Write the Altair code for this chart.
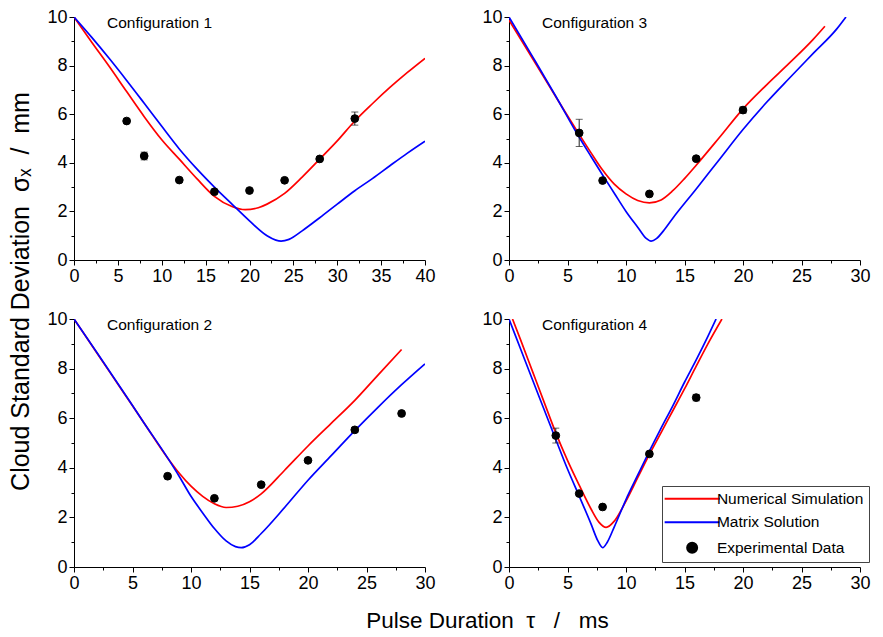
import altair as alt
import pandas as pd

FONT = "Liberation Sans"
SERIES = ["Numerical Simulation", "Matrix Solution", "Experimental Data"]
COLORS = ["#ff0000", "#0000ff", "#000000"]
LINE_PATH = "M-5.5,0H5.5"
SHAPES = [LINE_PATH, LINE_PATH, "circle"]

# ---- Configuration 1 ----
c1_red_t = [0, 2, 4, 6, 8, 10, 12, 14, 16, 18, 19.5, 21, 22, 24, 26, 28, 30, 32, 34, 36, 38, 40]
c1_red_s = [10, 8.97, 7.97, 6.93, 5.9, 4.95, 4.15, 3.35, 2.62, 2.2, 2.07, 2.15, 2.3, 2.74, 3.41, 4.15, 4.9, 5.72, 6.43, 7.1, 7.72, 8.3]
c1_blue_t = [0, 2, 4, 6, 8, 10, 12, 14, 16, 18, 20, 22, 23, 23.6, 24.5, 26, 28, 30, 32, 34, 36, 38, 40]
c1_blue_s = [10, 9.17, 8.3, 7.39, 6.45, 5.5, 4.57, 3.75, 3.0, 2.3, 1.61, 1.0, 0.82, 0.78, 0.85, 1.2, 1.74, 2.3, 2.85, 3.35, 3.88, 4.4, 4.89]
c1_exp_t = [6, 8, 12, 16, 20, 24, 28, 32]
c1_exp_s = [5.72, 4.28, 3.29, 2.81, 2.86, 3.28, 4.16, 5.82]
c1_exp_e = [0.08, 0.16, 0.04, 0.04, 0.04, 0.04, 0.04, 0.27]

# ---- Configuration 3 ----
c3_red_t = [0, 2, 4, 6, 7, 8, 9, 10, 11, 12, 13, 14, 15, 16, 18, 20, 22, 24, 26, 27]
c3_red_s = [9.87, 8.3, 6.72, 5.17, 4.42, 3.7, 3.12, 2.72, 2.45, 2.35, 2.47, 2.85, 3.35, 3.9, 5.05, 6.22, 7.2, 8.12, 9.08, 9.62]
c3_blue_t = [0, 2, 4, 6, 7, 8, 9, 10, 11, 11.7, 12.15, 12.6, 13.2, 14, 16, 18, 20, 22, 24, 26, 28, 28.8]
c3_blue_s = [10, 8.38, 6.74, 5.05, 4.27, 3.5, 2.75, 2.0, 1.35, 0.9, 0.78, 0.88, 1.2, 1.72, 2.92, 4.15, 5.37, 6.48, 7.5, 8.5, 9.5, 10]
c3_exp_t = [6, 8, 12, 16, 20]
c3_exp_s = [5.23, 3.27, 2.72, 4.17, 6.17]
c3_exp_e = [0.56, 0.04, 0.04, 0.04, 0.13]

# ---- Configuration 2 ----
c2_red_t = [0, 2, 4, 6, 8, 9, 10, 11, 12, 13, 14, 15, 16, 18, 20, 22, 24, 26, 28]
c2_red_s = [10, 8.6, 7.2, 5.8, 4.4, 3.78, 3.26, 2.85, 2.55, 2.4, 2.45, 2.63, 2.95, 3.9, 4.88, 5.8, 6.72, 7.75, 8.77]
c2_blue_t = [0, 2, 4, 6, 8, 9, 10, 11, 12, 13, 13.8, 14.3, 15, 16, 18, 20, 22, 24, 26, 28, 30]
c2_blue_s = [10, 8.62, 7.22, 5.8, 4.4, 3.65, 2.85, 2.18, 1.55, 1.05, 0.82, 0.78, 0.9, 1.35, 2.4, 3.5, 4.5, 5.5, 6.45, 7.35, 8.19]
c2_exp_t = [8, 12, 16, 20, 24, 28]
c2_exp_s = [3.66, 2.77, 3.32, 4.30, 5.53, 6.19]
c2_exp_e = [0.04, 0.04, 0.04, 0.04, 0.1, 0.04]

# ---- Configuration 4 ----
c4_red_t = [0.3, 1, 2, 3, 4, 5, 6, 7, 7.7, 8.3, 9, 10, 11, 12, 13, 14, 15, 16, 17, 18.2]
c4_red_s = [10, 9.15, 7.9, 6.65, 5.41, 4.3, 3.3, 2.35, 1.8, 1.6, 1.85, 2.66, 3.6, 4.54, 5.42, 6.3, 7.18, 8.1, 9.0, 10]
c4_blue_t = [0, 1, 2, 3, 4, 5, 6, 7, 7.6, 8, 8.4, 9, 10, 11, 12, 13, 14, 15, 16, 17, 17.7]
c4_blue_s = [10, 8.78, 7.56, 6.35, 5.14, 3.95, 2.86, 1.75, 1.05, 0.78, 1.0, 1.62, 2.72, 3.7, 4.67, 5.6, 6.5, 7.45, 8.35, 9.3, 10]
c4_exp_t = [4, 6, 8, 12, 16]
c4_exp_s = [5.30, 2.96, 2.42, 4.56, 6.83]
c4_exp_e = [0.3, 0.04, 0.04, 0.04, 0.13]

Y_TITLE = "Cloud Standard Deviation\u00a0\u00a0\u03c3\u2093\u00a0\u00a0/\u00a0\u00a0mm"
X_TITLE = "Pulse Duration\u00a0\u00a0\u03c4\u00a0\u00a0\u00a0/\u00a0\u00a0\u00a0ms"

W = 351
H_TOP, H_BOT = 243, 248

leg = alt.Legend(
    title=None, orient="none", legendX=588, legendY=469,
    fillColor="white", strokeColor="#444444", padding=5,
    labelFontSize=15.5, labelFont=FONT, labelColor="black", labelLimit=400,
    symbolStrokeWidth=2, symbolOffset=17.4, labelOffset=17, rowPadding=6.5,
)
stroke_scale = alt.Scale(domain=SERIES, range=COLORS)
fill_scale = alt.Scale(domain=SERIES, range=COLORS)
shape_scale = alt.Scale(domain=SERIES, range=SHAPES)


def panel(name, xmax, height, red_t, red_s, blue_t, blue_s, exp_t, exp_s, exp_e, ytitle=None, xtitle=None):
    lines = pd.DataFrame({
        "t": red_t + blue_t,
        "s": red_s + blue_s,
        "series": [SERIES[0]] * len(red_t) + [SERIES[1]] * len(blue_t),
    })
    exp = pd.DataFrame({
        "t": exp_t,
        "s": exp_s,
        "lo": [s - e for s, e in zip(exp_s, exp_e)],
        "hi": [s + e for s, e in zip(exp_s, exp_e)],
        "series": [SERIES[2]] * len(exp_t),
    })
    xvals = [i * 2.5 for i in range(int(xmax / 2.5) + 1)]
    yvals = list(range(0, 11))
    xaxis_kw = dict(
        values=xvals,
        labelExpr="datum.value % 5 === 0 ? '' + datum.value : ''",
        tickSize={"condition": {"test": "datum.value % 5 === 0", "value": 5}, "value": 3},
        labelPadding=2,
        title=xtitle,
    )
    if xtitle:
        xaxis_kw.update(titleX=413, titleY=53, titleBaseline="middle", titleAlign="center",
                        titleFontSize=22.5, titleFont=FONT, titleFontWeight="normal")
    yaxis_kw = dict(
        values=yvals,
        labelExpr="datum.value % 2 === 0 ? '' + datum.value : ''",
        tickSize={"condition": {"test": "datum.value % 2 === 0", "value": 5}, "value": 3},
        labelPadding=2,
        title=ytitle,
    )
    if ytitle:
        yaxis_kw.update(titleX=-54, titleY=274, titleBaseline="middle", titleAlign="center",
                        titleAngle=270, titleFontSize=25, titleFont=FONT, titleFontWeight="normal")
    xaxis = alt.Axis(**xaxis_kw)
    yaxis = alt.Axis(**yaxis_kw)
    xscale = alt.Scale(domain=[0, xmax], nice=False, zero=False)
    yscale = alt.Scale(domain=[0, 10], nice=False)

    def X():
        return alt.X("t:Q", scale=xscale, axis=xaxis)

    def Y(field):
        return alt.Y(f"{field}:Q", scale=yscale, axis=yaxis)

    line_ch = alt.Chart(lines).mark_line(strokeWidth=1.7, interpolate="monotone", clip=True).encode(
        x=X(), y=Y("s"),
        stroke=alt.Stroke("series:N", scale=stroke_scale, legend=leg),
    )
    rule_ch = alt.Chart(exp).mark_rule(color="#222222", strokeWidth=1).encode(
        x=X(), y=Y("lo"), y2="hi:Q"
    )
    cap_lo = alt.Chart(exp).mark_tick(orient="horizontal", color="#222222", size=7, thickness=1).encode(
        x=X(), y=Y("lo")
    )
    cap_hi = alt.Chart(exp).mark_tick(orient="horizontal", color="#222222", size=7, thickness=1).encode(
        x=X(), y=Y("hi")
    )
    pts = alt.Chart(exp).mark_point(filled=True, opacity=1, strokeWidth=1, size=60).encode(
        x=X(), y=Y("s"),
        fill=alt.Fill("series:N", scale=fill_scale, legend=leg),
        stroke=alt.Stroke("series:N", scale=stroke_scale, legend=leg),
        shape=alt.Shape("series:N", scale=shape_scale, legend=leg),
    )
    label = alt.Chart(pd.DataFrame({"label": [name]})).mark_text(
        align="left", baseline="middle", fontSize=15.5, font=FONT, color="black"
    ).encode(x=alt.value(33), y=alt.value(6), text="label:N")
    return alt.layer(line_ch, rule_ch, cap_lo, cap_hi, pts, label).properties(width=W, height=height)


p1 = panel("Configuration 1", 40, H_TOP, c1_red_t, c1_red_s, c1_blue_t, c1_blue_s, c1_exp_t, c1_exp_s, c1_exp_e, ytitle=Y_TITLE)
p3 = panel("Configuration 3", 30, H_TOP, c3_red_t, c3_red_s, c3_blue_t, c3_blue_s, c3_exp_t, c3_exp_s, c3_exp_e)
p2 = panel("Configuration 2", 30, H_BOT, c2_red_t, c2_red_s, c2_blue_t, c2_blue_s, c2_exp_t, c2_exp_s, c2_exp_e, xtitle=X_TITLE)
p4 = panel("Configuration 4", 30, H_BOT, c4_red_t, c4_red_s, c4_blue_t, c4_blue_s, c4_exp_t, c4_exp_s, c4_exp_e)

chart = alt.concat(
    p1, p3, p2, p4, columns=2, spacing={"row": 59, "column": 84}, bounds="flush"
).resolve_scale(
    x="independent", y="independent"
).properties(
    padding=0,
    background="white",
).configure_axis(
    labelFont=FONT, labelFontSize=18, labelColor="black",
    domainColor="black", tickColor="black", domainWidth=1, tickWidth=1,
    grid=False, labelFlush=False, labelOverlap=False,
    titleColor="black",
).configure_view(stroke=None)

chart.save("out.html", embed_options={"renderer": "svg", "actions": False})
